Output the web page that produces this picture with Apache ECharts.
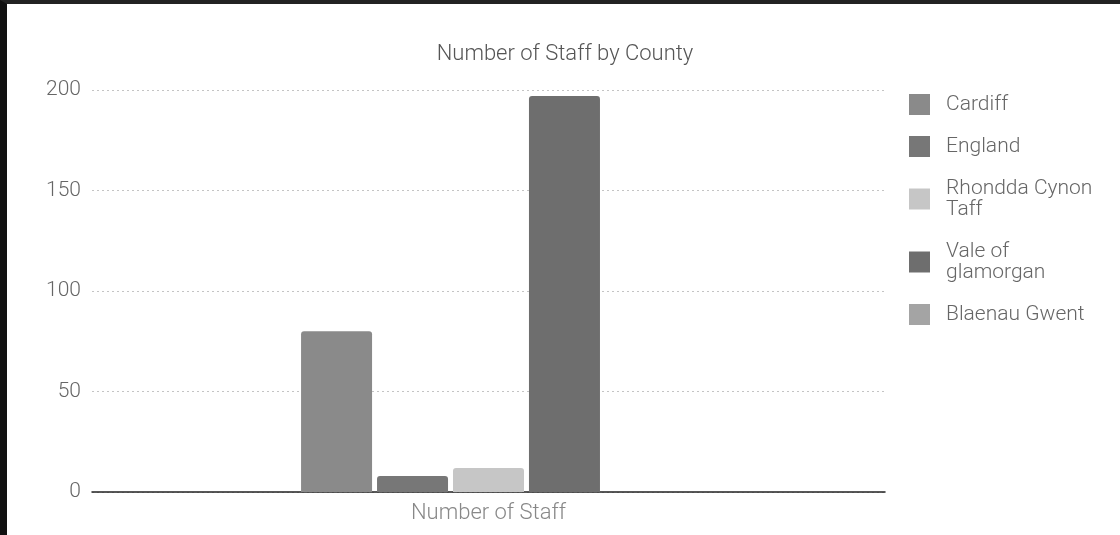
<!DOCTYPE html>
<html>
<head>
<meta charset="utf-8">
<script src="https://cdn.jsdelivr.net/npm/echarts@6/dist/echarts.min.js"></script>
<style>
  html, body { margin: 0; padding: 0; background: #fff; }
  #frame { position: absolute; left: 0; top: 0; width: 1120px; height: 535px; box-sizing: border-box;
           border-left: 7px solid #111; border-top: 4px solid #222; }
  #chart { position: absolute; left: 0; top: 0; width: 1120px; height: 535px; }
</style>
</head>
<body>
<div id="chart"></div>
<div id="frame"></div>
<script>
// Staff headcount per county, one bar series per county
const categories = ['Number of Staff'];
const counties = ['Cardiff', 'England', 'Rhondda Cynon Taff', 'Vale of glamorgan', 'Blaenau Gwent'];
const staff = [80, 8, 12, 197, 0];
const colors = ['#8a8a8a', '#777777', '#c6c6c6', '#6e6e6e', '#a4a4a4'];
const yTicks = { min: 0, max: 200, interval: 50 };

const font = 'Roboto, "Noto Sans", sans-serif';

const chart = echarts.init(document.getElementById('chart'), null, { renderer: 'canvas' });
chart.setOption({
  backgroundColor: '#fff',
  animation: false,
  title: {
    text: 'Number of Staff by County',
    left: 560, top: 38, textAlign: 'center',
    textStyle: { fontFamily: font, fontWeight: 300, fontSize: 22, color: '#555' }
  },
  legend: {
    orient: 'vertical',
    left: 904, top: 89,
    itemWidth: 21, itemHeight: 21, itemGap: 21,
    icon: 'rect',
    data: counties,
    textStyle: {
      fontFamily: font, fontWeight: 300, fontSize: 21, color: '#666',
      lineHeight: 21, width: 160, overflow: 'break', padding: [0, 0, 0, 11]
    }
  },
  grid: { left: 92, right: 235, top: 90, bottom: 43 },
  xAxis: {
    type: 'category',
    data: categories,
    axisLine: { lineStyle: { color: '#222', width: 1.5 } },
    axisTick: { show: false },
    axisLabel: { fontFamily: font, fontWeight: 300, fontSize: 22, color: '#888', margin: 10 }
  },
  yAxis: {
    type: 'value',
    min: yTicks.min, max: yTicks.max, interval: yTicks.interval,
    axisLine: { show: false },
    axisTick: { show: false },
    axisLabel: { fontFamily: font, fontWeight: 300, fontSize: 21, color: '#666', margin: 11 },
    splitLine: { lineStyle: { color: '#c4c4c4', type: [2, 3], width: 1 } }
  },
  series: counties.map((name, i) => ({
    name,
    type: 'bar',
    data: [staff[i]],
    barWidth: 71,
    barGap: '7%',
    itemStyle: { color: colors[i], borderRadius: [3, 3, 0, 0] }
  }))
});
</script>
</body>
</html>
